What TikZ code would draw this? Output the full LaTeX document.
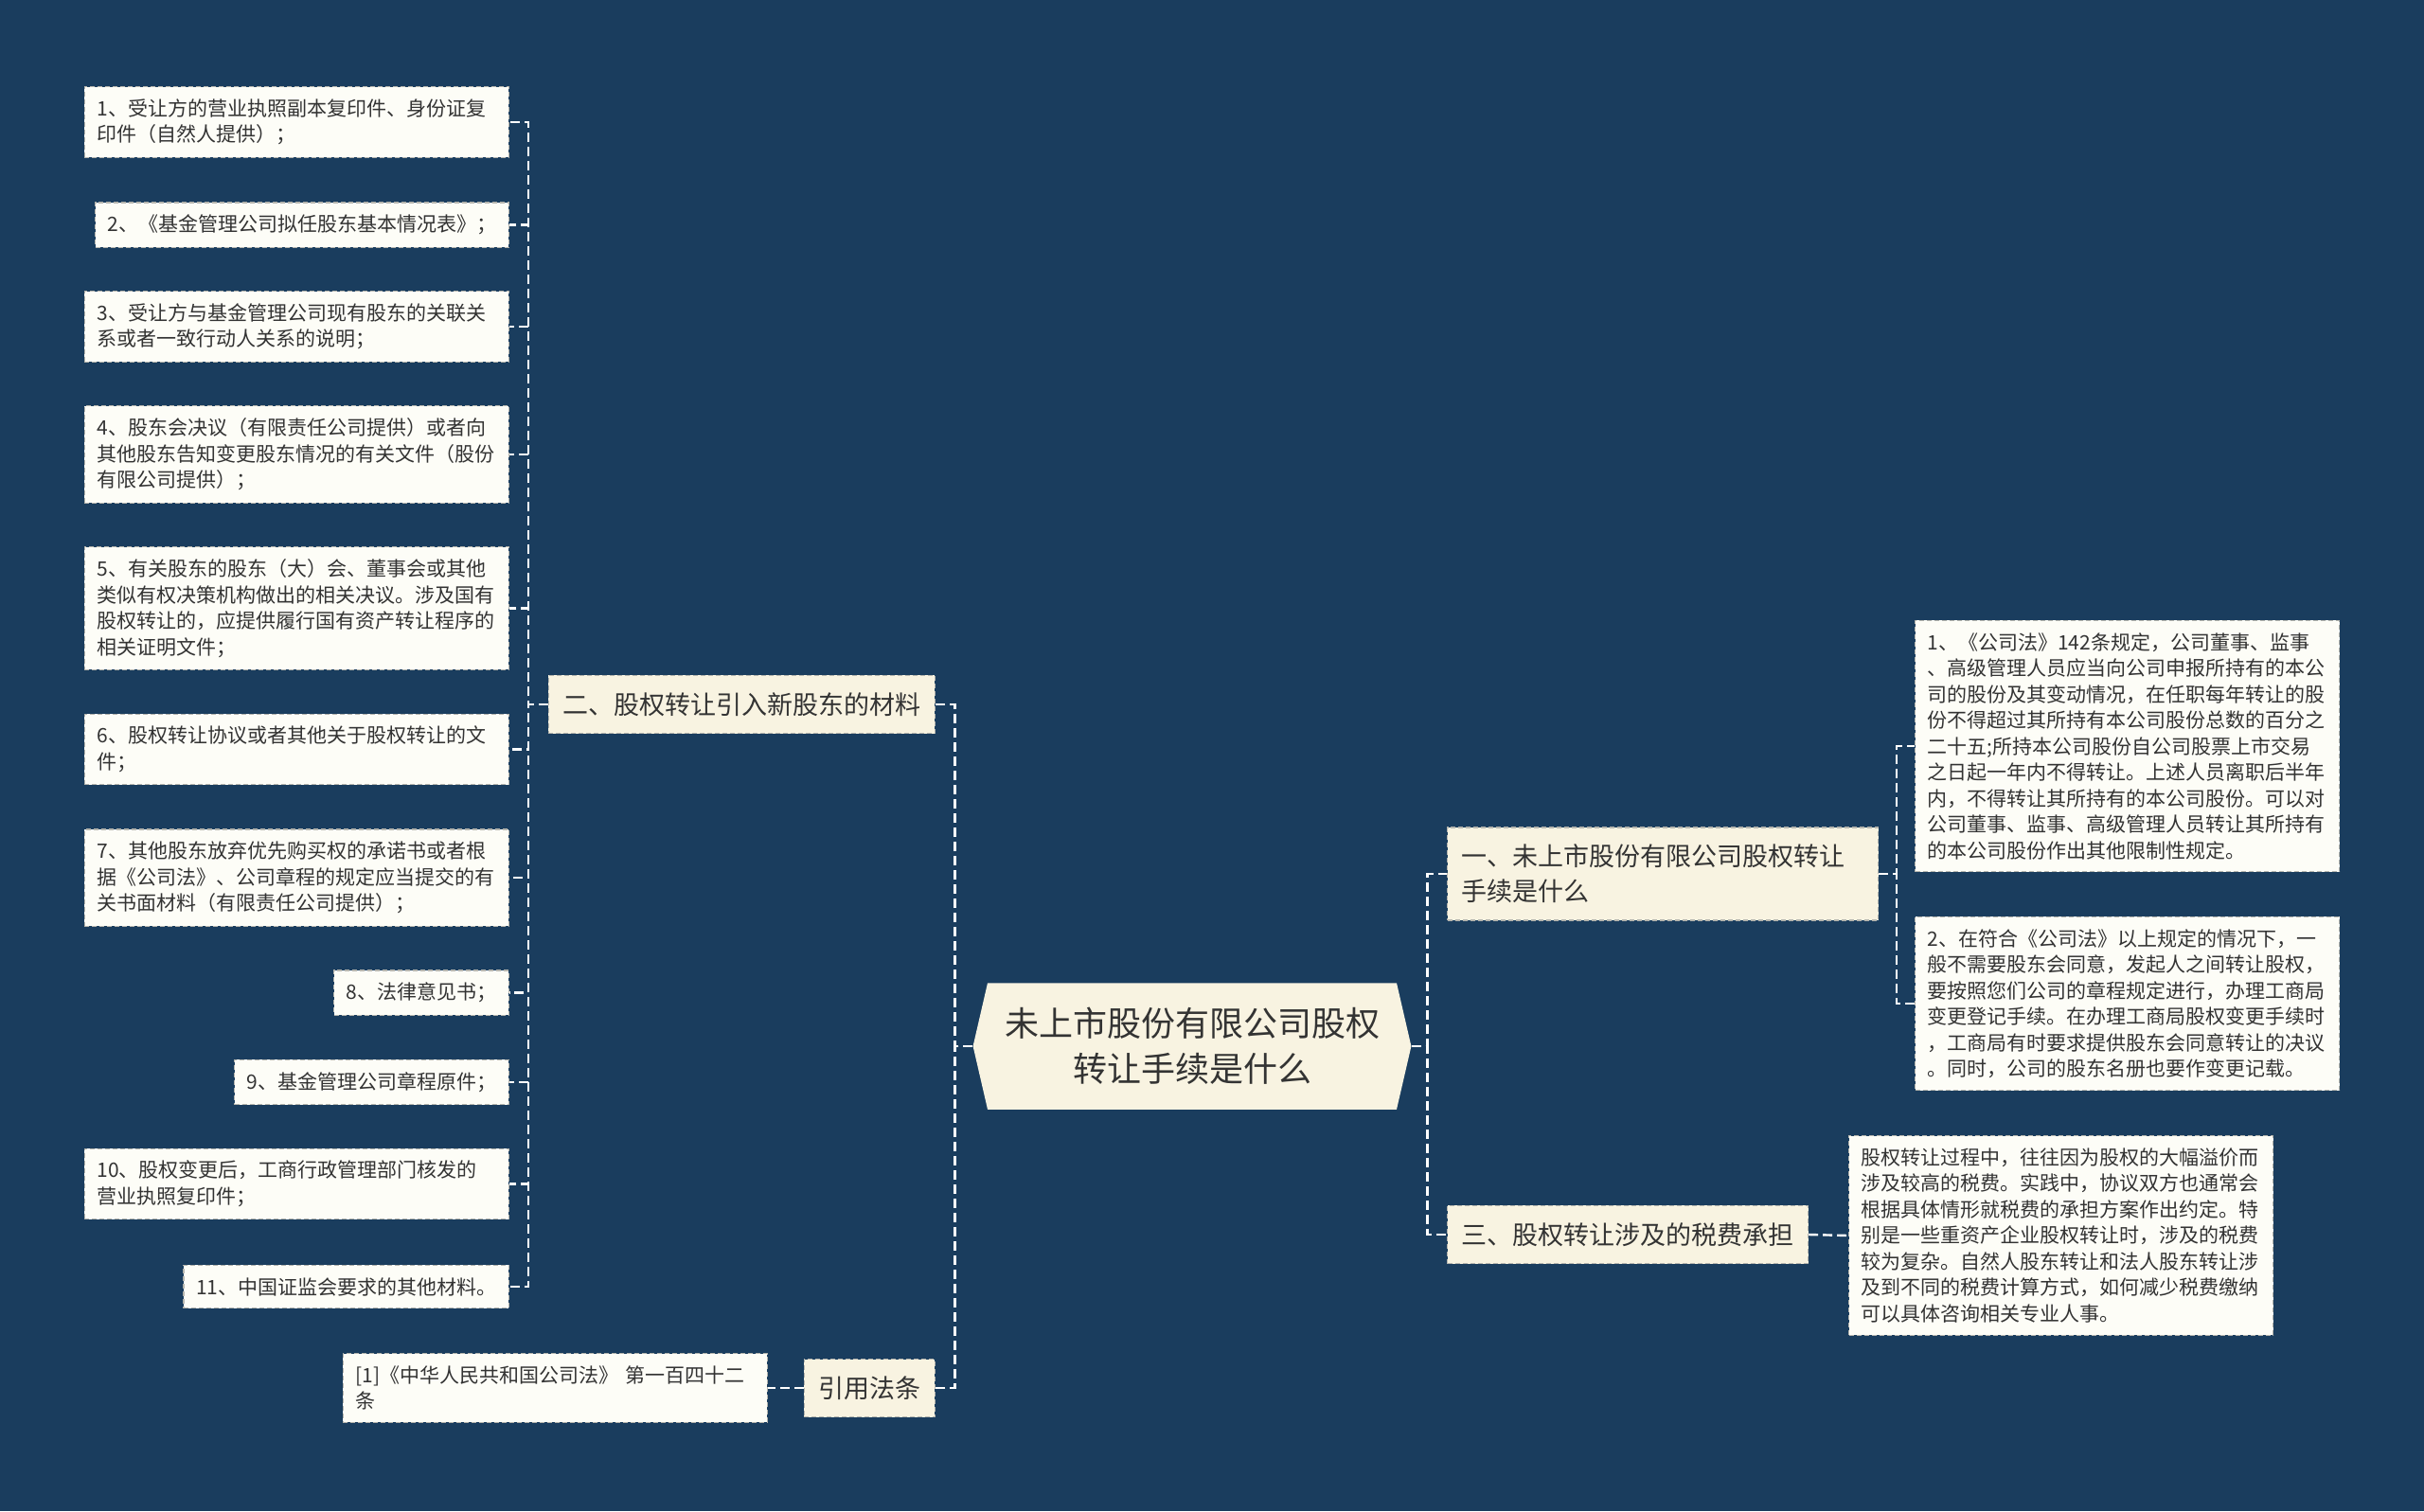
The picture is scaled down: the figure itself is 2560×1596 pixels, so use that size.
\documentclass[tikz,border=0pt]{standalone}
\usepackage{fontspec}
\setmainfont{Noto Sans CJK SC}
\usetikzlibrary{shapes.symbols}

\definecolor{bgblue}{HTML}{1A3D5E}
\definecolor{leaffill}{HTML}{FDFDF7}
\definecolor{topicfill}{HTML}{F8F3E1}
\definecolor{inkgray}{HTML}{333333}
\definecolor{rimgray}{HTML}{B5B5AE}

\tikzset{
  box/.style={draw=rimgray, line width=1.2pt, dash pattern=on 5pt off 3pt,
    text=inkgray, align=left, inner xsep=13pt, inner ysep=13pt},
  leaf/.style={box, fill=leaffill, font=\fontsize{21}{27.5}\selectfont},
  wideleaf/.style={leaf, text width=422pt},
  topic/.style={box, fill=topicfill, font=\fontsize{27}{37}\selectfont,
    inner xsep=15pt, inner ysep=18pt},
  root/.style={signal, signal to=east and west, signal pointer angle=154,
    fill=topicfill, text=inkgray, align=center,
    font=\fontsize{36}{48}\selectfont, inner xsep=18pt, inner ysep=26pt},
  link/.style={draw=white, line width=2.4pt, dash pattern=on 10pt off 5pt},
}

\begin{document}
\begin{tikzpicture}[x=1pt, y=-1pt]
  \fill [bgblue] (0,0) rectangle (2560,1596);
  \path (1259,1105)  node[root] (T) {未上市股份有限公司股权\\转让手续是什么}
        (988,744)    node[topic, anchor=east] (B2) {二、股权转让引入新股东的材料}
        (988,1466)   node[topic, anchor=east] (Cite) {引用法条}
        (1528,923)   node[topic, anchor=west, text width=425pt] (B1) {一、未上市股份有限公司股权转让\\手续是什么}
        (1528,1304)  node[topic, anchor=west] (B3) {三、股权转让涉及的税费承担};
  \path (538,129)    node[wideleaf, anchor=east] (L1) {1、受让方的营业执照副本复印件、身份证复\\印件（自然人提供）；}
        (538,237.5)  node[leaf, anchor=east] (L2) {2、《基金管理公司拟任股东基本情况表》；}
        (538,345)    node[wideleaf, anchor=east] (L3) {3、受让方与基金管理公司现有股东的关联关\\系或者一致行动人关系的说明；}
        (538,480)    node[wideleaf, anchor=east] (L4) {4、股东会决议（有限责任公司提供）或者向\\其他股东告知变更股东情况的有关文件（股份\\有限公司提供）；}
        (538,642.5)  node[wideleaf, anchor=east] (L5) {5、有关股东的股东（大）会、董事会或其他\\类似有权决策机构做出的相关决议。涉及国有\\股权转让的，应提供履行国有资产转让程序的\\相关证明文件；}
        (538,791.5)  node[wideleaf, anchor=east] (L6) {6、股权转让协议或者其他关于股权转让的文\\件；}
        (538,927)    node[wideleaf, anchor=east] (L7) {7、其他股东放弃优先购买权的承诺书或者根\\据《公司法》、公司章程的规定应当提交的有\\关书面材料（有限责任公司提供）；}
        (538,1048.5) node[leaf, anchor=east] (L8) {8、法律意见书；}
        (538,1143)   node[leaf, anchor=east] (L9) {9、基金管理公司章程原件；}
        (538,1250.5) node[wideleaf, anchor=east] (L10) {10、股权变更后，工商行政管理部门核发的\\营业执照复印件；}
        (538,1359)   node[leaf, anchor=east] (L11) {11、中国证监会要求的其他材料。}
        (811,1466)   node[wideleaf, anchor=east] (C1) {[1]《中华人民共和国公司法》 第一百四十二\\条};
  \path (2022,788)   node[wideleaf, anchor=west] (R1) {1、《公司法》142条规定，公司董事、监事\\、高级管理人员应当向公司申报所持有的本公\\司的股份及其变动情况，在任职每年转让的股\\份不得超过其所持有本公司股份总数的百分之\\二十五;所持本公司股份自公司股票上市交易\\之日起一年内不得转让。上述人员离职后半年\\内，不得转让其所持有的本公司股份。可以对\\公司董事、监事、高级管理人员转让其所持有\\的本公司股份作出其他限制性规定。}
        (2022,1060)  node[wideleaf, anchor=west] (R2) {2、在符合《公司法》以上规定的情况下，一\\般不需要股东会同意，发起人之间转让股权，\\要按照您们公司的章程规定进行，办理工商局\\变更登记手续。在办理工商局股权变更手续时\\，工商局有时要求提供股东会同意转让的决议\\。同时，公司的股东名册也要作变更记载。}
        (1952,1305)  node[wideleaf, anchor=west] (Tax) {股权转让过程中，往往因为股权的大幅溢价而\\涉及较高的税费。实践中，协议双方也通常会\\根据具体情形就税费的承担方案作出约定。特\\别是一些重资产企业股权转让时，涉及的税费\\较为复杂。自然人股东转让和法人股东转让涉\\及到不同的税费计算方式，如何减少税费缴纳\\可以具体咨询相关专业人事。};
  \draw [link] (T.west) -- ++(-19,0) |- (B2.east);
  \draw [link] (T.west) -- ++(-19,0) |- (Cite.east);
  \draw [link] (T.east) -- ++(17,0) |- (B1.west);
  \draw [link] (T.east) -- ++(17,0) |- (B3.west);
  \foreach \i in {1,...,11}
    \draw [link] (B2.west) -- ++(-21,0) |- (L\i.east);
  \draw [link] (Cite.west) -- (C1.east);
  \draw [link] (B1.east) -- ++(19,0) |- (R1.west);
  \draw [link] (B1.east) -- ++(19,0) |- (R2.west);
  \draw [link] (B3.east) -- (Tax.west);
\end{tikzpicture}
\end{document}
